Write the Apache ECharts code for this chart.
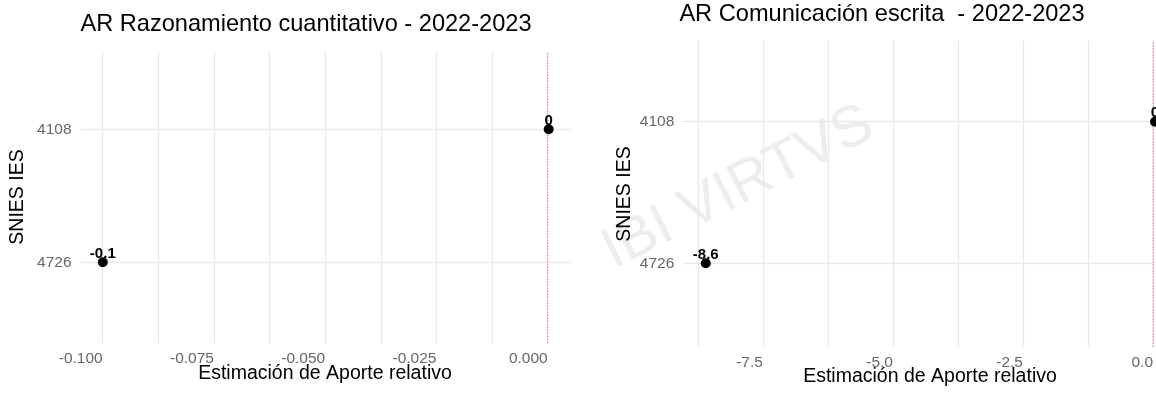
<!DOCTYPE html>
<html>
<head>
<meta charset="utf-8">
<script src="https://cdn.jsdelivr.net/npm/echarts@6/dist/echarts.min.js"></script>
<style>
    html, body {margin: 0; padding: 0; background: #fff;}
    #main {width: 1156px; height: 394px;}
</style>
</head>
<body>
<div id="main"></div>
<script>
// SNIES codes (bottom to top)
const categories = ['4726', '4108'];
// Estimación de Aporte relativo
const razonamiento = [-0.1, 0];
const comunicacion = [-8.6, 0];
// reference line position
const zeroRef = 0;

const FONT = '"Liberation Sans", Arial, sans-serif';
const GRID_COLOR = '#e9e9e9';
const TICK_COLOR = '#666';
const ZERO_COLOR = '#e07a7a';

function fmtPoint(v) {
    return String(Math.round(v * 10) / 10);
}

function majorFormatter(step, digits) {
    return function (v) {
        const r = Math.round(v / step) * step;
        if (Math.abs(r - v) > step * 1e-6) {
            return '';
        }
        return (Math.abs(r) < 1e-12 ? 0 : r).toFixed(digits);
    };
}

function hiddenX(gridIndex, min, max) {
    return {gridIndex: gridIndex, type: 'value', min: min, max: max, show: false};
}

function gridX(gridIndex, min, max, interval, step, digits) {
    return {
        gridIndex: gridIndex,
        type: 'value',
        min: min,
        max: max,
        interval: interval,
        axisLine: {show: false},
        axisTick: {show: false},
        splitLine: {show: true, lineStyle: {color: GRID_COLOR, width: 1.4}},
        axisLabel: {
            color: TICK_COLOR,
            fontFamily: FONT,
            fontSize: 15.5,
            align: 'right',
            margin: 8,
            showMinLabel: true,
            showMaxLabel: true,
            formatter: majorFormatter(step, digits),
        },
    };
}

function catY(gridIndex) {
    return {
        gridIndex: gridIndex,
        type: 'category',
        data: categories,
        boundaryGap: false,
        axisLine: {show: false},
        axisTick: {show: false},
        splitLine: {show: true, lineStyle: {color: GRID_COLOR, width: 1.4}},
        axisLabel: {color: TICK_COLOR, fontFamily: FONT, fontSize: 15.5, margin: 9},
    };
}

function hiddenY(gridIndex) {
    return {gridIndex: gridIndex, type: 'value', min: 0, max: 1, show: false};
}

function points(values, xi, yi) {
    return {
        type: 'scatter',
        xAxisIndex: xi,
        yAxisIndex: yi,
        z: 5,
        clip: false,
        symbolSize: 10,
        itemStyle: {color: '#000', opacity: 1},
        label: {
            show: true,
            position: 'inside',
            offset: [0, -8.5],
            color: '#000',
            fontFamily: FONT,
            fontWeight: 'bold',
            fontSize: 15,
            formatter: p => fmtPoint(p.value[0]),
        },
        data: categories.map((c, i) => [values[i], c]),
    };
}

// dotted vertical line at x = 0 spanning the whole panel height
function zeroLine(xi, yi) {
    return {
        type: 'line',
        xAxisIndex: xi,
        yAxisIndex: yi,
        z: 3,
        silent: true,
        clip: false,
        symbol: 'none',
        lineStyle: {color: ZERO_COLOR, type: [1.5, 1.5], width: 1},
        data: [[zeroRef, 0], [zeroRef, 1]],
    };
}

function text(str, x, y, size, extra) {
    return Object.assign({
        type: 'text',
        x: x,
        y: y,
        silent: true,
        style: {
            text: str,
            fill: '#000',
            font: size + 'px ' + FONT,
            align: 'center',
            verticalAlign: 'middle',
            textAlign: 'center',
            textVerticalAlign: 'middle',
        },
    }, extra || {});
}

const chart = echarts.init(document.getElementById('main'));
chart.setOption({
    animation: false,
    backgroundColor: '#fff',
    grid: [
        // left panel: categories / data
        {left: 80.5, width: 490.5, top: 129.3, height: 133},
        // left panel: vertical grid + x labels
        {left: 102.7, width: 445, top: 52, height: 291},
        // right panel: categories / data (cut at the right edge)
        {left: 683.3, width: 472.7, top: 121.7, height: 141.6},
        // right panel: vertical grid + x labels
        {left: 697.9, width: 457.1, top: 40.5, height: 306.2},
    ],
    xAxis: [
        hiddenX(0, -0.105, 0.005),
        gridX(1, -0.1, 0, 0.0125, 0.025, 3),
        hiddenX(2, -9.03, 0.0185),
        gridX(3, -8.75, 0, 1.25, 2.5, 1),
    ],
    yAxis: [
        catY(0),
        hiddenY(1),
        catY(2),
        hiddenY(3),
    ],
    series: [
        zeroLine(1, 1),
        zeroLine(3, 3),
        points(razonamiento, 0, 0),
        points(comunicacion, 2, 2),
    ],
    graphic: [
        text('IBI VIRTVS', 738, 188, 58, {
            rotation: 27 * Math.PI / 180,
            z: -1,
            style: {
                text: 'IBI VIRTVS',
                fill: '#ededed',
                font: '58px ' + FONT,
                align: 'center',
                verticalAlign: 'middle',
                textAlign: 'center',
                textVerticalAlign: 'middle',
            },
        }),
        text('AR Razonamiento cuantitativo - 2022-2023', 306, 24, 23.6),
        text('AR Comunicación escrita  - 2022-2023', 882, 14, 23.6),
        text('Estimación de Aporte relativo', 325, 374, 19.5),
        text('Estimación de Aporte relativo', 930, 377, 19.5),
        text('SNIES IES', 18, 197, 19.5, {rotation: Math.PI / 2}),
        text('SNIES IES', 625, 194, 19.5, {rotation: Math.PI / 2}),
    ],
});
</script>
</body>
</html>
